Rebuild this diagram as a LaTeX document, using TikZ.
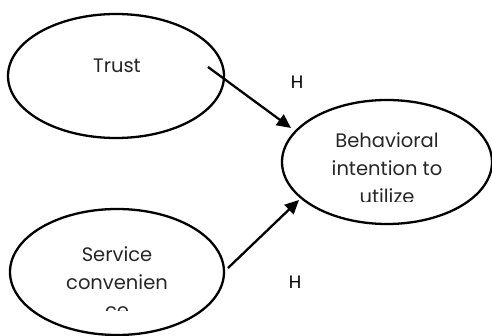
\documentclass[tikz,border=0pt]{standalone}
\usepackage{fontspec}
\setmainfont{Poppins}
\usetikzlibrary{shapes.geometric,arrows.meta}
\tikzset{
  construct/.style={ellipse, draw=black, line width=2.3pt, inner sep=0pt},
  label/.style={font=\fontsize{19.5}{28}\selectfont, text=black!85, align=center, inner sep=0pt},
  hlabel/.style={font=\fontsize{18}{20}\selectfont, inner sep=0pt},
  link/.style={line width=2.3pt, -{Triangle[length=14pt,width=13pt]}}
}
\begin{document}
\begin{tikzpicture}[x=1pt,y=-1pt]
\useasboundingbox (0,0) rectangle (492,336);
% ellipses
\node[construct, minimum width=216pt, minimum height=124pt] (trust) at (116,76) {};
\node[construct, minimum width=210pt, minimum height=124pt] (bi) at (387,162) {};
\node[construct, minimum width=214pt, minimum height=126pt] (sc) at (117,272) {};
% texts
\node[label, anchor=base] (ttrust) at (117,73) {Trust};
\begin{scope}
\clip (280,110) rectangle (492,202);
\node[label, anchor=north] (tbi) at (387,132) {Behavioral\\intention to\\utilize};
\end{scope}
\begin{scope}
\clip (0,230) rectangle (240,310);
\node[label, anchor=north] (tsc) at (117,246) {Service\\convenien\\ce};
\end{scope}
% H labels
\node[hlabel] (h1) at (297,82) {H};
\node[hlabel] (h2) at (295,282) {H};
% connectors
\coordinate (s1) at (208,67);
\coordinate (e1) at (291,128);
\coordinate (s2) at (228,268);
\coordinate (e2) at (299,200);
\draw[link] (s1) -- (e1);
\draw[link] (s2) -- (e2);
\end{tikzpicture}
\end{document}
